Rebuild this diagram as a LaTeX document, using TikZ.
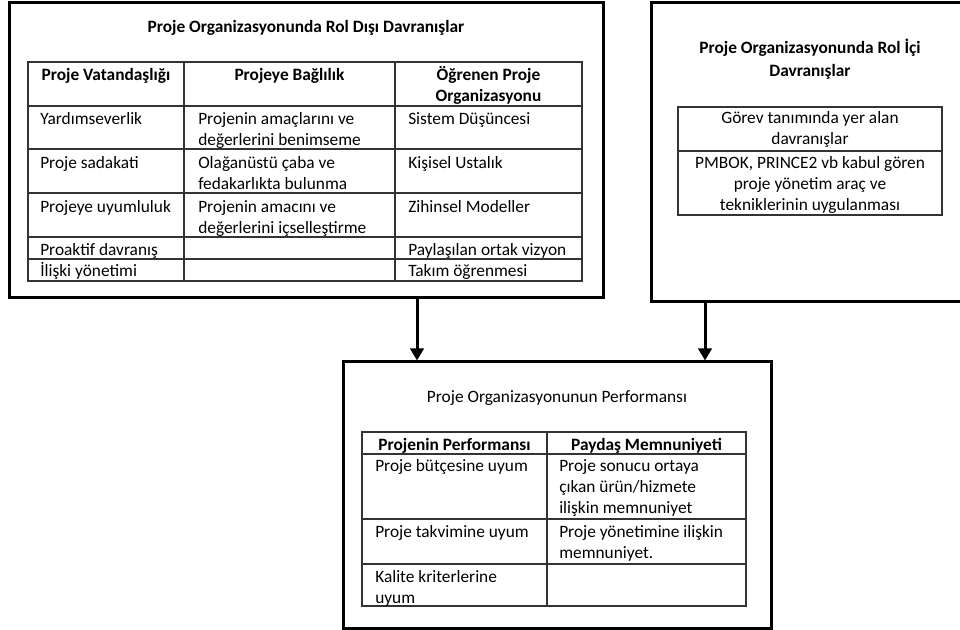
\documentclass[tikz,border=0pt]{standalone}
\usepackage{fontspec}
\setmainfont{Carlito}
\usetikzlibrary{arrows.meta}
\begin{document}
\begin{tikzpicture}[x=0.75pt,y=-0.75pt,
  obox/.style={draw, line width=2.25pt, inner sep=0pt},
  grid/.style={line width=0.8pt, draw=black!80},
  tx/.style={font=\fontsize{13}{15.8}\selectfont, inner sep=0pt, anchor=west, align=left},
  hd/.style={font=\fontsize{13}{15.8}\selectfont\bfseries, inner sep=0pt, align=center},
  ct/.style={font=\fontsize{13}{15.8}\selectfont, inner sep=0pt, align=center},
  arr/.style={line width=2.25pt, -{Triangle[length=9pt,width=10pt]}}]
\useasboundingbox (0,0) rectangle (960,630);

% outer boxes
\node[obox, minimum width=445.5pt, minimum height=221.25pt] (L) at (306,150.5) {};
\node[obox, minimum width=246.75pt, minimum height=224.25pt] (R) at (815.5,152.5) {};
\node[obox, minimum width=321pt, minimum height=199.5pt] (B) at (557,495) {};

% connectors
\coordinate (a1) at (417,330);
\coordinate (a2) at (705,330);
\draw[arr] (a1 |- L.south) -- (a1 |- B.north);
\draw[arr] (a2 |- R.south) -- (a2 |- B.north);

% ---------- left box ----------
\node[hd] (Lt) at (306,28) {\strut Proje Organizasyonunda Rol Dışı Davranışlar};
\draw[grid] (28,62) rectangle (582,281);
\draw[grid] (184,62) -- (184,281) (395,62) -- (395,281);
\draw[grid] (28,106) -- (582,106) (28,149) -- (582,149) (28,193) -- (582,193)
            (28,237) -- (582,237) (28,259) -- (582,259);
\node[hd] (h1) at (106,76) {\strut Proje Vatandaşlığı};
\node[hd] (h2) at (289.5,76) {\strut Projeye Bağlılık};
\node[hd] (h3) at (488.5,86.5) {\strut Öğrenen Proje\\\strut Organizasyonu};

\node[tx] (c11) at (40,120) {\strut Yardımseverlik};
\node[tx] (c12) at (198,130.5) {\strut Projenin amaçlarını ve\\\strut değerlerini benimseme};
\node[tx] (c13) at (408,120) {\strut Sistem Düşüncesi};

\node[tx] (c21) at (40,164) {\strut Proje sadakati};
\node[tx] (c22) at (198,174.5) {\strut Olağanüstü çaba ve\\\strut fedakarlıkta bulunma};
\node[tx] (c23) at (408,164) {\strut Kişisel Ustalık};

\node[tx] (c31) at (40,208) {\strut Projeye uyumluluk};
\node[tx] (c32) at (198,218.5) {\strut Projenin amacını ve\\\strut değerlerini içselleştirme};
\node[tx] (c33) at (408,208) {\strut Zihinsel Modeller};

\node[tx] (c41) at (40,250.8) {\strut Proaktif davranış};
\node[tx] (c43) at (408,250.8) {\strut Paylaşılan ortak vizyon};

\node[tx] (c51) at (40,272.5) {\strut İlişki yönetimi};
\node[tx] (c53) at (408,272.5) {\strut Takım öğrenmesi};

% ---------- right box ----------
\node[hd, font=\fontsize{13}{16.9}\selectfont\bfseries] (Rt) at (810,60.3) {\strut Proje Organizasyonunda Rol İçi\\\strut Davranışlar};
\draw[grid] (678,107) rectangle (942,215);
\draw[grid] (678,151) -- (942,151);
\node[ct] (r1) at (810,130) {\strut Görev tanımında yer alan\\\strut davranışlar};
\node[ct] (r2) at (810,185) {\strut PMBOK, PRINCE2 vb kabul gören\\\strut proje yönetim araç ve\\\strut tekniklerinin uygulanması};

% ---------- bottom box ----------
\node[ct] (Bt) at (557,398.5) {\strut Proje Organizasyonunun Performansı};
\draw[grid] (362,432) rectangle (746,606);
\draw[grid] (547,432) -- (547,606);
\draw[grid] (362,454) -- (746,454) (362,519) -- (746,519) (362,564) -- (746,564);
\node[hd] (bh1) at (454.5,446.5) {\strut Projenin Performansı};
\node[hd] (bh2) at (646.5,446.5) {\strut Paydaş Memnuniyeti};

\node[tx] (b11) at (375,467.5) {\strut Proje bütçesine uyum};
\node[tx] (b12) at (559,488.5) {\strut Proje sonucu ortaya\\\strut çıkan ürün/hizmete\\\strut ilişkin memnuniyet};
\node[tx] (b21) at (375,533.5) {\strut Proje takvimine uyum};
\node[tx] (b22) at (559,544) {\strut Proje yönetimine ilişkin\\\strut memnuniyet.};
\node[tx] (b31) at (375,588.5) {\strut Kalite kriterlerine\\\strut uyum};
\end{tikzpicture}
\end{document}
